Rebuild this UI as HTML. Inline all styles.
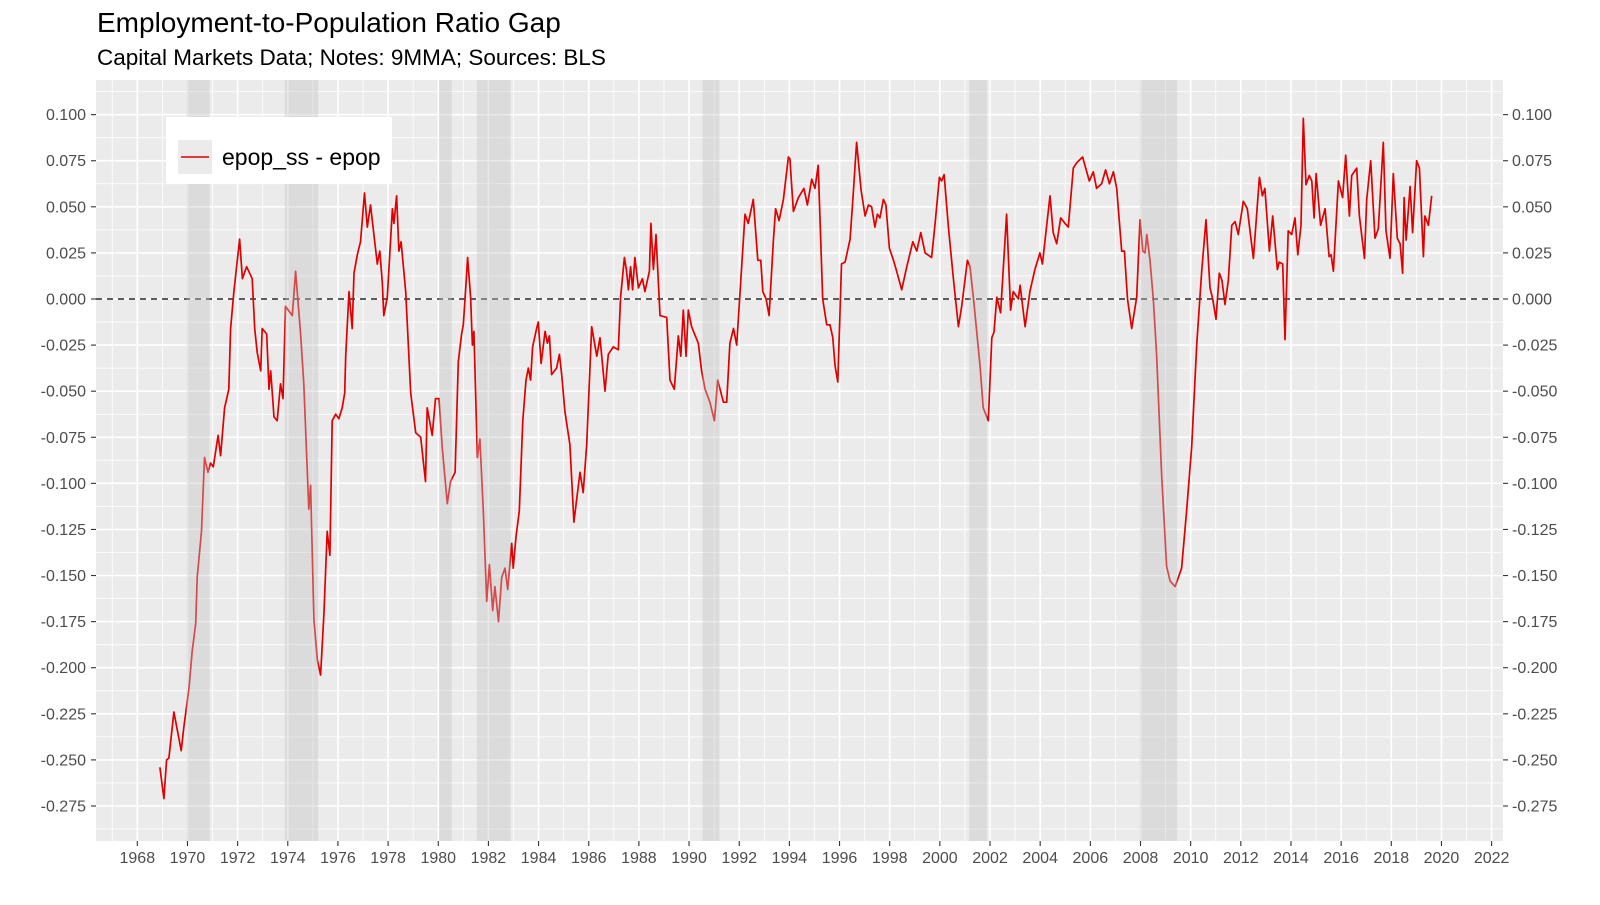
<!DOCTYPE html>
<html><head><meta charset="utf-8">
<style>
html,body{margin:0;padding:0;background:#fff;}
svg{display:block;font-family:"Liberation Sans",Arial,sans-serif;}
</style></head>
<body>
<svg id="chart" width="1600" height="905" viewBox="0 0 1600 905" xmlns="http://www.w3.org/2000/svg">
<text x="97" y="32" font-size="28" fill="#000">Employment-to-Population Ratio Gap</text>
<text x="97" y="65" font-size="22.5" fill="#000">Capital Markets Data; Notes: 9MMA; Sources: BLS</text>
<g id="panel"></g>
</svg>
<script>
const years = [1968.90,1969.06,1969.17,1969.26,1969.46,1969.75,1969.86,1970.06,1970.19,1970.33,1970.39,1970.56,1970.68,1970.82,1970.92,1971.03,1971.22,1971.32,1971.48,1971.65,1971.72,1971.85,1972.08,1972.19,1972.36,1972.58,1972.68,1972.78,1972.92,1972.98,1973.16,1973.25,1973.32,1973.45,1973.58,1973.71,1973.81,1973.91,1974.18,1974.31,1974.51,1974.64,1974.84,1974.91,1975.04,1975.18,1975.31,1975.44,1975.57,1975.68,1975.77,1975.91,1976.04,1976.17,1976.27,1976.31,1976.44,1976.57,1976.64,1976.77,1976.90,1977.06,1977.17,1977.30,1977.44,1977.57,1977.67,1977.77,1977.83,1977.97,1978.17,1978.23,1978.34,1978.43,1978.52,1978.70,1978.90,1979.10,1979.30,1979.49,1979.56,1979.76,1979.89,1980.03,1980.16,1980.36,1980.49,1980.67,1980.80,1980.93,1981.00,1981.11,1981.17,1981.29,1981.36,1981.42,1981.56,1981.66,1981.80,1981.93,1982.04,1982.17,1982.26,1982.40,1982.53,1982.66,1982.77,1982.93,1982.99,1983.10,1983.23,1983.37,1983.50,1983.59,1983.68,1983.76,1983.92,1983.99,1984.10,1984.26,1984.35,1984.43,1984.52,1984.72,1984.83,1984.92,1985.05,1985.25,1985.41,1985.65,1985.78,1985.92,1986.12,1986.32,1986.45,1986.65,1986.78,1986.98,1987.18,1987.27,1987.42,1987.51,1987.58,1987.67,1987.75,1987.84,1987.98,1988.14,1988.24,1988.42,1988.48,1988.58,1988.68,1988.84,1989.11,1989.24,1989.41,1989.57,1989.67,1989.77,1989.88,1989.97,1990.10,1990.37,1990.50,1990.64,1990.83,1991.01,1991.14,1991.37,1991.50,1991.63,1991.77,1991.90,1992.23,1992.36,1992.56,1992.74,1992.86,1992.94,1993.07,1993.19,1993.36,1993.45,1993.59,1993.76,1993.96,1994.02,1994.16,1994.36,1994.58,1994.72,1994.89,1995.02,1995.15,1995.33,1995.49,1995.62,1995.73,1995.82,1995.93,1996.08,1996.22,1996.42,1996.55,1996.68,1996.86,1997.02,1997.15,1997.28,1997.41,1997.51,1997.61,1997.75,1997.85,1997.99,1998.15,1998.30,1998.48,1998.68,1998.92,1999.08,1999.24,1999.41,1999.67,1999.81,1999.98,2000.07,2000.17,2000.34,2000.54,2000.74,2000.87,2001.10,2001.20,2001.36,2001.60,2001.73,2001.93,2002.07,2002.16,2002.27,2002.42,2002.66,2002.82,2002.93,2003.13,2003.20,2003.40,2003.59,2003.79,2003.99,2004.09,2004.39,2004.52,2004.66,2004.82,2004.99,2005.12,2005.32,2005.46,2005.69,2005.96,2006.12,2006.25,2006.45,2006.61,2006.76,2006.92,2007.05,2007.25,2007.36,2007.48,2007.65,2007.85,2007.98,2008.09,2008.18,2008.25,2008.38,2008.51,2008.64,2008.84,2009.04,2009.18,2009.38,2009.51,2009.64,2009.84,2010.04,2010.24,2010.44,2010.61,2010.77,2010.88,2011.01,2011.14,2011.25,2011.37,2011.50,2011.64,2011.77,2011.90,2012.10,2012.26,2012.50,2012.74,2012.86,2012.96,2013.14,2013.27,2013.46,2013.53,2013.67,2013.76,2013.89,2014.03,2014.16,2014.27,2014.40,2014.49,2014.60,2014.73,2014.83,2014.92,2015.00,2015.18,2015.36,2015.52,2015.60,2015.69,2015.89,2016.06,2016.18,2016.33,2016.42,2016.62,2016.73,2016.93,2017.02,2017.18,2017.35,2017.48,2017.68,2017.79,2017.95,2018.08,2018.24,2018.35,2018.45,2018.51,2018.59,2018.75,2018.85,2019.01,2019.12,2019.28,2019.34,2019.48,2019.61];
const gapValues = [-0.254,-0.271,-0.250,-0.249,-0.224,-0.245,-0.232,-0.211,-0.191,-0.176,-0.151,-0.126,-0.086,-0.094,-0.089,-0.091,-0.074,-0.085,-0.059,-0.049,-0.016,0.004,0.0325,0.011,0.0175,0.011,-0.016,-0.029,-0.039,-0.016,-0.019,-0.049,-0.039,-0.064,-0.066,-0.046,-0.054,-0.004,-0.009,0.015,-0.019,-0.046,-0.114,-0.101,-0.174,-0.196,-0.204,-0.171,-0.126,-0.139,-0.066,-0.0625,-0.065,-0.059,-0.051,-0.031,0.004,-0.016,0.014,0.024,0.031,0.0575,0.039,0.051,0.034,0.019,0.026,0.009,-0.009,0.001,0.049,0.041,0.056,0.026,0.031,0.004,-0.051,-0.0725,-0.075,-0.099,-0.059,-0.074,-0.054,-0.054,-0.081,-0.111,-0.099,-0.094,-0.034,-0.019,-0.014,0.009,0.0225,0.001,-0.025,-0.0175,-0.086,-0.076,-0.116,-0.164,-0.144,-0.169,-0.156,-0.175,-0.151,-0.146,-0.1575,-0.1325,-0.146,-0.129,-0.115,-0.066,-0.044,-0.0375,-0.044,-0.026,-0.016,-0.0125,-0.035,-0.0175,-0.024,-0.02,-0.041,-0.0375,-0.03,-0.041,-0.061,-0.079,-0.121,-0.094,-0.105,-0.079,-0.015,-0.031,-0.021,-0.05,-0.03,-0.026,-0.0275,0.001,0.0225,0.015,0.005,0.0175,0.005,0.0225,0.006,0.011,0.004,0.015,0.041,0.016,0.035,-0.009,-0.01,-0.044,-0.049,-0.02,-0.031,-0.006,-0.031,-0.006,-0.015,-0.024,-0.039,-0.049,-0.056,-0.066,-0.044,-0.056,-0.056,-0.024,-0.016,-0.025,0.046,0.041,0.054,0.021,0.021,0.004,0.0,-0.009,0.031,0.049,0.0425,0.054,0.077,0.076,0.0475,0.055,0.06,0.051,0.065,0.06,0.0725,0.0,-0.014,-0.014,-0.021,-0.036,-0.045,0.019,0.02,0.0325,0.0575,0.085,0.059,0.045,0.051,0.05,0.039,0.046,0.044,0.054,0.051,0.0275,0.021,0.014,0.005,0.0175,0.031,0.026,0.036,0.025,0.0225,0.041,0.066,0.064,0.0675,0.039,0.011,-0.015,-0.004,0.021,0.0175,-0.0025,-0.036,-0.059,-0.066,-0.021,-0.018,0.001,-0.0075,0.046,-0.006,0.004,0.0,0.0075,-0.015,0.004,0.016,0.025,0.019,0.056,0.036,0.03,0.044,0.041,0.039,0.071,0.074,0.077,0.064,0.069,0.06,0.0625,0.07,0.0625,0.069,0.06,0.026,0.026,0.0,-0.016,0.001,0.043,0.026,0.025,0.035,0.021,0.0,-0.03,-0.095,-0.145,-0.153,-0.156,-0.151,-0.146,-0.115,-0.08,-0.025,0.015,0.043,0.006,0.0,-0.011,0.014,0.01,-0.003,0.01,0.04,0.042,0.035,0.053,0.049,0.022,0.066,0.056,0.06,0.026,0.045,0.016,0.02,0.019,-0.022,0.037,0.035,0.044,0.024,0.04,0.098,0.062,0.067,0.064,0.044,0.068,0.04,0.049,0.023,0.024,0.015,0.064,0.055,0.078,0.045,0.067,0.071,0.045,0.022,0.054,0.075,0.033,0.038,0.085,0.037,0.022,0.068,0.033,0.03,0.014,0.055,0.032,0.061,0.036,0.075,0.071,0.023,0.045,0.04,0.056];
const recessionStarts = [1969.96,1973.88,1980.04,1981.54,1990.54,2001.17,2007.96];
const recessionEnds = [1970.88,1975.21,1980.54,1982.88,1991.21,2001.88,2009.46];
const yTicks = [0.1,0.075,0.05,0.025,0,-0.025,-0.05,-0.075,-0.1,-0.125,-0.15,-0.175,-0.2,-0.225,-0.25,-0.275];
const xTicks = [1968,1970,1972,1974,1976,1978,1980,1982,1984,1986,1988,1990,1992,1994,1996,1998,2000,2002,2004,2006,2008,2010,2012,2014,2016,2018,2020,2022];

const NS = 'http://www.w3.org/2000/svg';
const L = 96, R = 1503, T = 80, B = 841;
function xs(yr){ return 137.3 + (yr - 1968) * 25.08; }
function ys(v){ return 299 - v * 1843.6; }
const g = document.getElementById('panel');
function mk(tag, attrs, parent){
  const e = document.createElementNS(NS, tag);
  for (const k in attrs) e.setAttribute(k, attrs[k]);
  (parent || g).appendChild(e);
  return e;
}
const bg = mk('rect', {x:L, y:T, width:R-L, height:B-T, fill:'#ebebeb'});


for (let i = 0; i < yTicks.length - 1; i++) {
  const y = ys((yTicks[i] + yTicks[i+1]) / 2);
  mk('line', {x1:L, x2:R, y1:y, y2:y, stroke:'#fff', 'stroke-width':0.8});
}
for (let i = 0; i < xTicks.length - 1; i++) {
  const x = xs(xTicks[i] + 1);
  mk('line', {x1:x, x2:x, y1:T, y2:B, stroke:'#fff', 'stroke-width':0.8});
}
{ const x = xs(1967); mk('line', {x1:x, x2:x, y1:T, y2:B, stroke:'#fff', 'stroke-width':0.8}); }
{ const y = ys(-0.2875); mk('line', {x1:L, x2:R, y1:y, y2:y, stroke:'#fff', 'stroke-width':0.8}); }
{ const y = ys(0.1125); mk('line', {x1:L, x2:R, y1:y, y2:y, stroke:'#fff', 'stroke-width':0.8}); }
yTicks.forEach(v => {
  const y = ys(v);
  mk('line', {x1:L, x2:R, y1:y, y2:y, stroke:'#fff', 'stroke-width':1.6});
  mk('line', {x1:L-5, x2:L, y1:y, y2:y, stroke:'#333', 'stroke-width':1.1});
  mk('line', {x1:R, x2:R+5, y1:y, y2:y, stroke:'#333', 'stroke-width':1.1});
  const s = v.toFixed(3);
  const t1 = mk('text', {x:L-10, y:y+5.5, 'text-anchor':'end', 'font-size':16, fill:'#4d4d4d'});
  t1.textContent = s;
  
  
  const t2 = mk('text', {x:R+9, y:y+5.5, 'text-anchor':'start', 'font-size':16, fill:'#4d4d4d'});
  t2.textContent = s;
  
  
});
xTicks.forEach(yr => {
  const x = xs(yr);
  mk('line', {x1:x, x2:x, y1:T, y2:B, stroke:'#fff', 'stroke-width':1.6});
  mk('line', {x1:x, x2:x, y1:B, y2:B+5, stroke:'#333', 'stroke-width':1.1});
  const t = mk('text', {x:x, y:B+22, 'text-anchor':'middle', 'font-size':16, fill:'#4d4d4d'});
  t.textContent = String(yr);
  
  
});
const z = mk('line', {x1:L, x2:R, y1:ys(0), y2:ys(0), stroke:'#000', 'stroke-width':1.3, 'stroke-dasharray':'6,5'});


let d = '';
years.forEach((yr, i) => { d += (i ? 'L' : 'M') + xs(yr).toFixed(1) + ',' + ys(gapValues[i]).toFixed(1); });
const p = mk('path', {d:d, fill:'none', stroke:'#e00000', 'stroke-width':1.7, 'stroke-linejoin':'round'});


recessionStarts.forEach((s, i) => {
  const r = mk('rect', {x:xs(s), y:T, width:xs(recessionEnds[i]) - xs(s), height:B-T, fill:'rgb(195,195,195)', 'fill-opacity':0.38});
  
  
});
const lg = mk('g', {});


mk('rect', {x:166, y:117, width:226, height:67, fill:'#fff'}, lg);
mk('rect', {x:178, y:140, width:34, height:34, fill:'#ebebeb'}, lg);
const ll = mk('line', {x1:181, x2:209, y1:157, y2:157, stroke:'#e00000', 'stroke-width':1.6}, lg);


const lt = mk('text', {x:222, y:165, 'font-size':23, fill:'#000'}, lg);
lt.textContent = 'epop_ss - epop';


</script>
</body></html>
